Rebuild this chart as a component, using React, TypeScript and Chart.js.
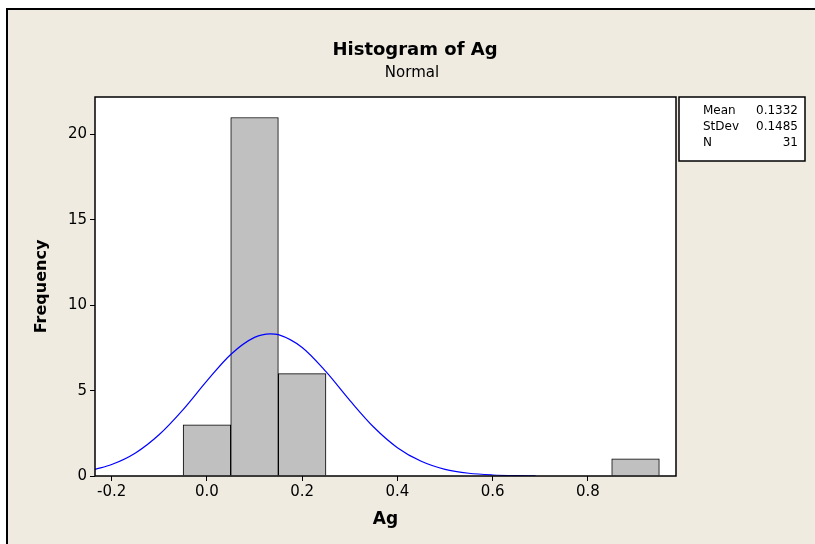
import React, { useEffect, useRef } from "react";
import { Chart, registerables } from "chart.js";

Chart.register(...registerables);

const binCenters = [0.0, 0.1, 0.2, 0.9];
const frequencies = [3, 21, 6, 1];
const curveX = [-0.235, -0.2, -0.15, -0.1, -0.05, 0.0, 0.05, 0.1, 0.133, 0.15, 0.2, 0.25, 0.3, 0.35, 0.4, 0.45, 0.5, 0.55, 0.6, 0.65, 0.69];
const curveY = [0.39, 0.67, 1.35, 2.43, 3.89, 5.57, 7.12, 8.12, 8.33, 8.28, 7.53, 6.11, 4.43, 2.87, 1.66, 0.86, 0.39, 0.16, 0.06, 0.02, 0.01];
const xTicks = [-0.2, 0.0, 0.2, 0.4, 0.6, 0.8];
const yTicks = [0, 5, 10, 15, 20];
const statLabels = ["Mean", "StDev", "N"];
const statValues = ["0.1332", "0.1485", "31"];
const titleText = "Histogram of Ag";
const subtitleText = "Normal";
const xTitle = "Ag";
const yTitle = "Frequency";

const FONT = "'DejaVu Sans', sans-serif";

const decorPlugin = {
  id: "decor",
  beforeDraw(chart: any) {
    const { ctx, width, height, chartArea } = chart;
    ctx.save();
    ctx.fillStyle = "#ffffff";
    ctx.fillRect(0, 0, width, height);
    ctx.fillStyle = "#efebe1";
    ctx.fillRect(7, 9, width - 7, height - 9);
    ctx.strokeStyle = "#000";
    ctx.lineWidth = 2;
    ctx.beginPath();
    ctx.moveTo(7, height);
    ctx.lineTo(7, 9);
    ctx.lineTo(width, 9);
    ctx.stroke();
    ctx.fillStyle = "#ffffff";
    ctx.fillRect(chartArea.left, chartArea.top, chartArea.right - chartArea.left, chartArea.bottom - chartArea.top);
    ctx.restore();
  },
  afterDraw(chart: any) {
    const { ctx, chartArea } = chart;
    ctx.save();
    ctx.strokeStyle = "#000";
    ctx.lineWidth = 1.5;
    ctx.strokeRect(chartArea.left, chartArea.top, chartArea.right - chartArea.left, chartArea.bottom - chartArea.top);
    // titles
    ctx.fillStyle = "#000";
    ctx.textAlign = "center";
    ctx.textBaseline = "middle";
    ctx.font = `bold 18px ${FONT}`;
    ctx.fillText(titleText, 415, 50);
    ctx.font = `15px ${FONT}`;
    ctx.fillText(subtitleText, 412, 73);
    ctx.font = `bold 17px ${FONT}`;
    ctx.fillText(xTitle, (chartArea.left + chartArea.right) / 2, 520);
    ctx.save();
    ctx.translate(42, (chartArea.top + chartArea.bottom) / 2);
    ctx.rotate(-Math.PI / 2);
    ctx.font = `bold 16px ${FONT}`;
    ctx.fillText(yTitle, 0, 0);
    ctx.restore();
    // stats box
    const bx = 679, by = 97, bw = 126, bh = 64;
    ctx.fillStyle = "#fff";
    ctx.fillRect(bx, by, bw, bh);
    ctx.lineWidth = 1.5;
    ctx.strokeRect(bx, by, bw, bh);
    ctx.fillStyle = "#000";
    ctx.font = `12px ${FONT}`;
    for (let i = 0; i < statLabels.length; i++) {
      const y = by + 14 + i * 16;
      ctx.textAlign = "left";
      ctx.fillText(statLabels[i], bx + 24, y);
      ctx.textAlign = "right";
      ctx.fillText(statValues[i], bx + bw - 7, y);
    }
    ctx.restore();
  },
};

export default function App() {
  const ref = useRef<HTMLCanvasElement | null>(null);
  useEffect(() => {
    document.body.style.margin = "0";
    const canvas = ref.current!;
    const chart = new Chart(canvas, {
      type: "bar",
      data: {
        datasets: [
          {
            type: "bar",
            data: binCenters.map((x, i) => ({ x, y: frequencies[i] })),
            backgroundColor: "#c0c0c0",
            borderColor: "#000",
            borderWidth: 1,
            barPercentage: 1,
            categoryPercentage: 1,
            order: 2,
          } as any,
          {
            type: "line",
            data: curveX.map((x, i) => ({ x, y: curveY[i] })),
            borderColor: "#0000ff",
            borderWidth: 1.2,
            pointRadius: 0,
            cubicInterpolationMode: "monotone",
            fill: false,
            order: 1,
          } as any,
        ],
      },
      options: {
        animation: false,
        responsive: false,
        maintainAspectRatio: false,
        layout: { padding: { left: 0, top: 97, right: 139, bottom: 0 } },
        plugins: { legend: { display: false }, tooltip: { enabled: false }, title: { display: false } },
        scales: {
          x: {
            type: "linear",
            min: -0.235,
            max: 0.985,
            offset: false,
            grid: { display: true, offset: false, drawOnChartArea: false, drawTicks: true, tickLength: 5, color: "#000" },
            border: { display: false },
            ticks: {
              color: "#000",
              font: { family: FONT, size: 15 },
              padding: 2,
              maxRotation: 0,
              callback: (v: any) => Number(v).toFixed(1),
            },
            afterBuildTicks: (scale: any) => {
              scale.ticks = xTicks.map((v) => ({ value: v }));
            },
            afterFit: (scale: any) => {
              scale.height = 68;
            },
          },
          y: {
            type: "linear",
            min: 0,
            max: 22.2,
            grid: { display: true, drawOnChartArea: false, drawTicks: true, tickLength: 5, color: "#000" },
            border: { display: false },
            ticks: {
              color: "#000",
              font: { family: FONT, size: 15 },
              padding: 3,
            },
            afterBuildTicks: (scale: any) => {
              scale.ticks = yTicks.map((v) => ({ value: v }));
            },
            afterFit: (scale: any) => {
              scale.width = 95;
            },
          },
        },
      },
      plugins: [decorPlugin],
    });
    return () => chart.destroy();
  }, []);
  return <canvas ref={ref} width={815} height={544} style={{ display: "block" }} />;
}
